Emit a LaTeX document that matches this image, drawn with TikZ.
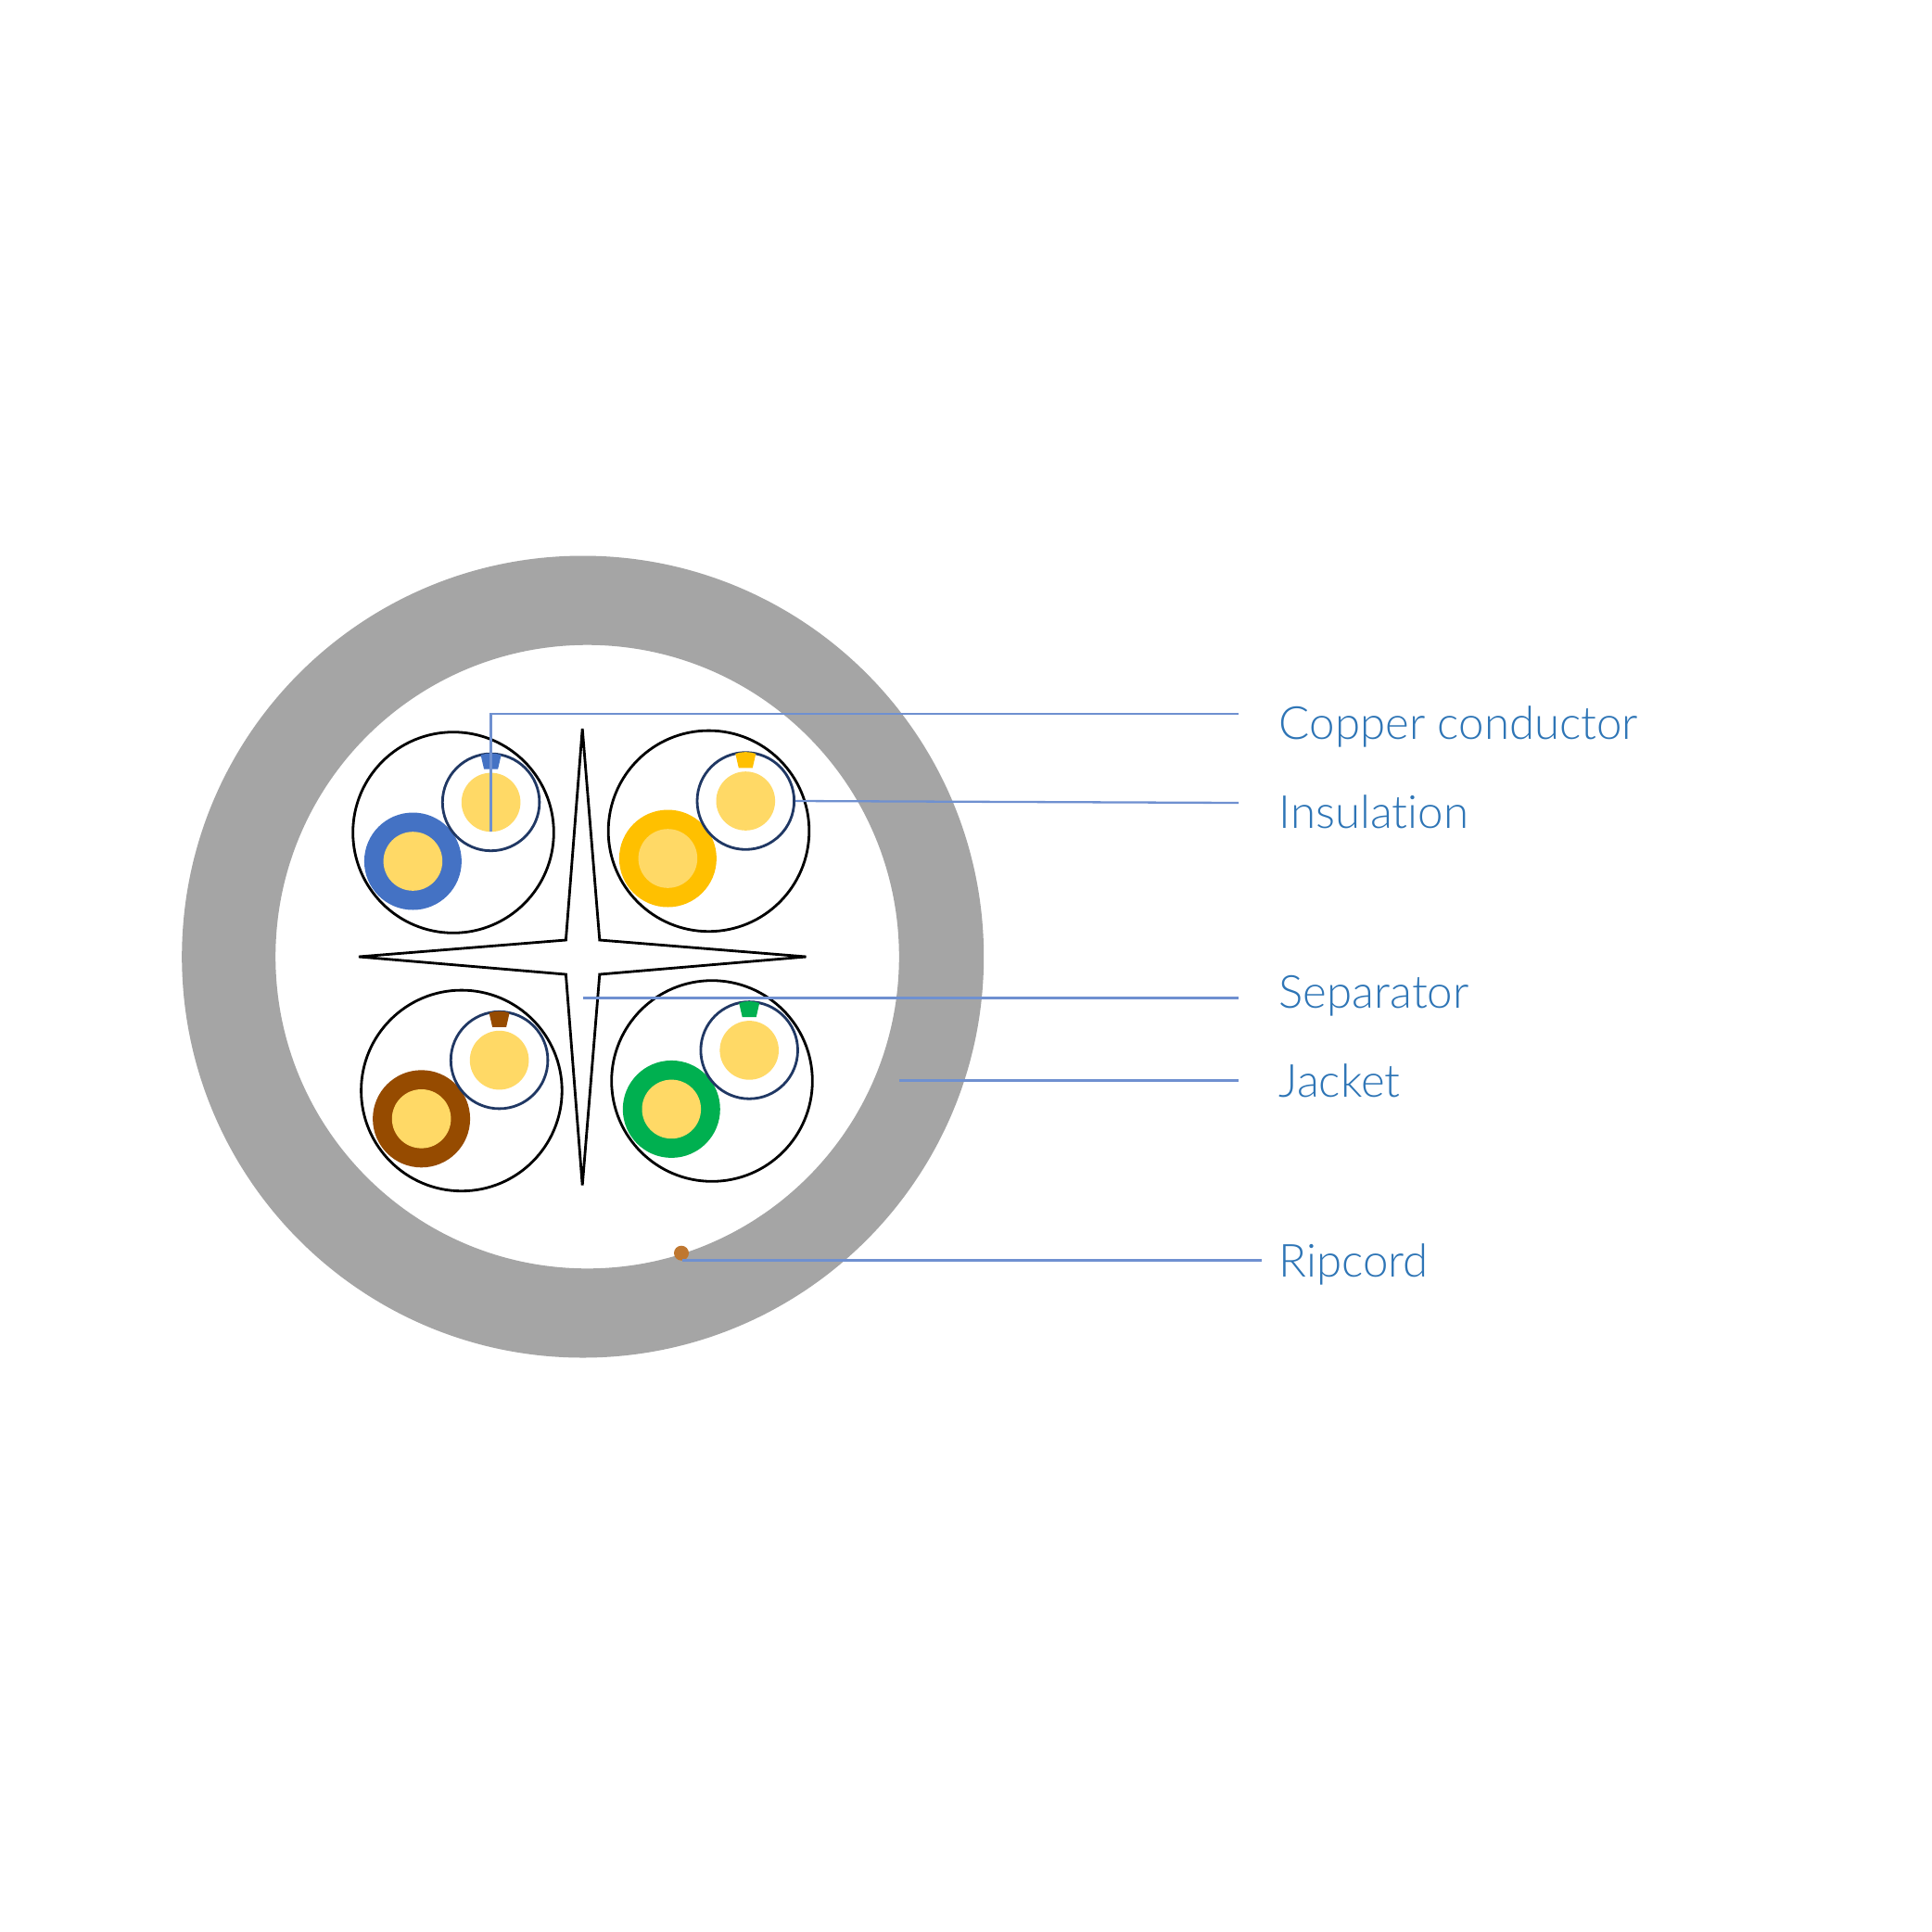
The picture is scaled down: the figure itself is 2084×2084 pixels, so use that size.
\documentclass[tikz,border=0pt]{standalone}
\usepackage{fontspec}
\setmainfont{Lato}[UprightFont=* Light]
\definecolor{jacketgray}{HTML}{A5A5A5}
\definecolor{copper}{HTML}{FFD966}
\definecolor{navyline}{HTML}{203864}
\definecolor{leader}{HTML}{6F90D0}
\definecolor{labelblue}{HTML}{2E75B6}
\definecolor{pblue}{HTML}{4472C4}
\definecolor{pyellow}{HTML}{FFC000}
\definecolor{pbrown}{HTML}{964B00}
\definecolor{pgreen}{HTML}{00B050}
\definecolor{ripcolor}{HTML}{BF7730}
\tikzset{
  x=0.01cm,y=-0.01cm,
  bundle/.style={circle,draw=black,line width=0.8pt,inner sep=0pt,minimum size=2.165cm},
  leaderline/.style={draw=leader,line width=0.65pt},
  lab/.style={text=labelblue,font=\fontsize{14pt}{17pt}\selectfont,anchor=base west,inner sep=0pt},
}
\newcommand{\pairunit}[5]{%
  \node[bundle] (#5) at (#1) {};
  \fill[#4] (#2) circle (52.5);
  \fill[copper] (#2) circle (31.8);
  \fill[copper] (#3) circle (31.8);
  \draw[navyline,line width=0.8pt] (#3) circle (52.3);
  \fill[#4,shift={(#3)}] (-11,-51) .. controls (-4,-53.5) and (4,-53.5) .. (11,-51) -- (7.5,-35.7) -- (-7.5,-35.7) -- cycle;
}
\begin{document}
\begin{tikzpicture}
\useasboundingbox (0,0) rectangle (2084,2084);
\fill[white] (0,0) rectangle (2084,2084);
% jacket
\fill[jacketgray,even odd rule] (628.7,1032) circle (432.5) (633.5,1032) circle (336.3);
% ripcord
\node[circle,fill=ripcolor,inner sep=0pt,minimum size=0.16cm] (rip) at (735,1351.7) {};
% pairs
\pairunit{489,898}{445.4,929}{529.6,865.4}{pblue}{bTL}
\pairunit{764.5,896.4}{720.4,926}{804.3,864}{pyellow}{bTR}
\pairunit{497.9,1176.4}{454.6,1206.8}{538.6,1143.6}{pbrown}{bBL}
\pairunit{768,1166}{724.3,1196.4}{808.2,1132.9}{pgreen}{bBR}
% separator
\draw[black,line width=0.8pt] (628.2,786) -- (646.8,1014) -- (869.6,1032) -- (646.8,1051) -- (628.2,1278.6) -- (610.4,1051) -- (387,1032) -- (610.4,1014) -- cycle;
% labels
\node[lab] (lCu) at (1379,797) {Copper conductor};
\node[lab] (lIn) at (1379,893) {Insulat\kern0pt ion};
\node[lab] (lSe) at (1379,1087) {Separator};
\node[lab] (lJa) at (1379,1183) {Jacket};
\node[lab] (lRi) at (1379,1377) {Ripcord};
% leader ends
\coordinate (a0) at (529.6,897);
\coordinate (a1) at (529.6,770);
\coordinate (a2) at (1336,770);
\coordinate (b1) at (858,864);
\coordinate (b2) at (1336,866);
\coordinate (c1) at (629,1076.5);
\coordinate (c2) at (1336,1076.5);
\coordinate (d1) at (970,1165.6);
\coordinate (d2) at (1336,1165.6);
\coordinate (e1) at (736,1359.5);
\coordinate (e2) at (1361,1359.5);
\draw[leaderline] (a0) -- (a1) -- (a2);
\draw[leaderline] (b1) -- (b2);
\draw[leaderline] (c1) -- (c2);
\draw[leaderline] (d1) -- (d2);
\draw[leaderline] (e1) -- (e2);
\end{tikzpicture}
\end{document}
